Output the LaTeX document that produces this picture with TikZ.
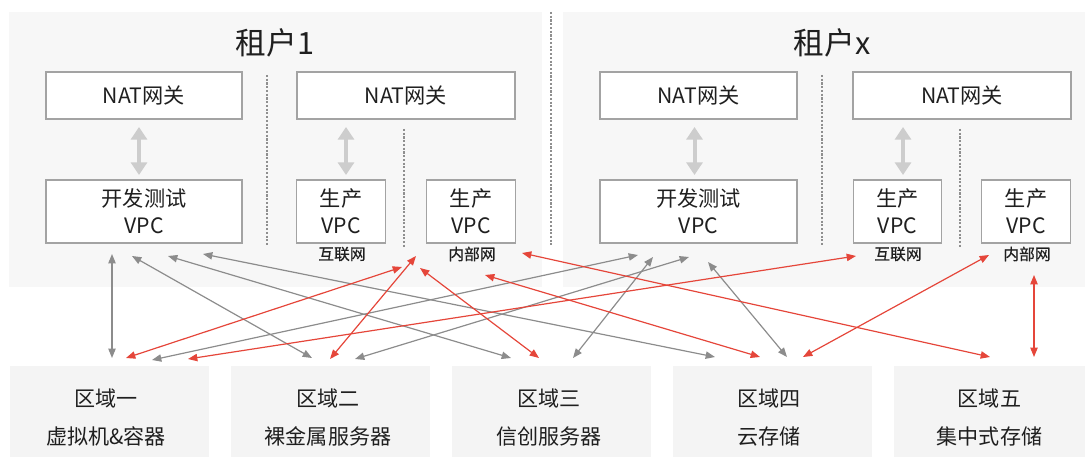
\documentclass[tikz,border=0pt]{standalone}
\usepackage{fontspec}
\setmainfont{Noto Sans CJK SC}
\newfontfamily\labfont{Noto Sans CJK SC}[FakeBold=0.6]
\usetikzlibrary{arrows.meta}
\definecolor{panelbg}{HTML}{F7F7F7}
\definecolor{zonebg}{HTML}{F4F4F4}
\definecolor{boxline}{HTML}{A3A3A3}
\definecolor{dotc}{HTML}{8F8F8F}
\definecolor{garr}{HTML}{8C8C8C}
\definecolor{rarr}{HTML}{E5463A}
\definecolor{larr}{HTML}{CDCDCD}
\definecolor{txt}{HTML}{1F1F1F}
\tikzset{
  box/.style={draw=boxline, fill=white, line width=0.9pt, inner sep=0pt, align=center, text=txt,
    font=\fontsize{15.9pt}{20.25pt}\selectfont},
  natbox/.style={box, minimum height=35.25pt},
  vpcbox/.style={box, minimum height=47.25pt},
  nettag/.style={inner sep=0pt, text=txt, font=\labfont\fontsize{11.8pt}{13pt}\selectfont},
  ttl/.style={inner sep=0pt, text=txt, font=\fontsize{23pt}{26pt}\selectfont},
  zone/.style={fill=zonebg, inner sep=0pt, minimum height=68.25pt},
  zonetext/.style={inner sep=0pt, align=center, text=txt, font=\fontsize{15.8pt}{28.5pt}\selectfont},
  dotline/.style={draw=dotc, line width=1.8pt, dash pattern=on 1.6pt off 1.2pt},
  garrow/.style={draw=garr, line width=0.9pt, {Triangle[length=7pt,width=5.5pt]}-{Triangle[length=7pt,width=5.5pt]}},
  rarrow/.style={draw=rarr, line width=0.9pt, {Triangle[length=7pt,width=5.5pt]}-{Triangle[length=7pt,width=5.5pt]}},
  larrow/.style={draw=larr, line width=3pt, {Triangle[length=9.5pt,width=12pt]}-{Triangle[length=9.5pt,width=12pt]}}
}
\begin{document}
\begin{tikzpicture}[x=0.75pt,y=-0.75pt]
\useasboundingbox (0,0) rectangle (1085,459);
% panels
\fill[panelbg] (9,12) rectangle (542,287);
\fill[panelbg] (563,12) rectangle (1085,287);
\draw[dotline] (551,12) -- (551,245);

% tenant 1
\node[ttl] (t1) at (275,43) {租户1};
\node[natbox, minimum width=147pt] (t1nat1) at (144,95.5) {NAT网关};
\node[natbox, minimum width=163.5pt] (t1nat2) at (406,95.5) {NAT网关};
\node[vpcbox, minimum width=147pt] (t1dev) at (144,211.5) {开发测试\\VPC};
\node[vpcbox, minimum width=66.5pt] (t1pi) at (341,211.5) {生产\\VPC};
\node[vpcbox, minimum width=66.5pt] (t1pn) at (471,211.5) {生产\\VPC};
\node[nettag] (t1pil) at (342,254) {互联网};
\node[nettag] (t1pnl) at (472,254) {内部网};
\draw[dotline] (267,75) -- (267,245);
\draw[dotline] (404,129) -- (404,247);
\coordinate (l1a) at (139,127); \coordinate (l1b) at (139,175);
\coordinate (l2a) at (346,127); \coordinate (l2b) at (346,175);
\draw[larrow] (l1a) -- (l1b);
\draw[larrow] (l2a) -- (l2b);

% tenant x
\node[ttl] (tx) at (832,43) {租户x};
\node[natbox, minimum width=147.75pt] (txnat1) at (698.5,95.5) {NAT网关};
\node[natbox, minimum width=163.5pt] (txnat2) at (962,95.5) {NAT网关};
\node[vpcbox, minimum width=147.75pt] (txdev) at (698.5,211.5) {开发测试\\VPC};
\node[vpcbox, minimum width=65.5pt] (txpi) at (897.5,211.5) {生产\\VPC};
\node[vpcbox, minimum width=67pt] (txpn) at (1026,211.5) {生产\\VPC};
\node[nettag] (txpil) at (898,254) {互联网};
\node[nettag] (txpnl) at (1027,254) {内部网};
\draw[dotline] (822,75) -- (822,245);
\draw[dotline] (960,129) -- (960,247);
\coordinate (l3a) at (694.5,127); \coordinate (l3b) at (694.5,175);
\coordinate (l4a) at (903,127); \coordinate (l4b) at (903,175);
\draw[larrow] (l3a) -- (l3b);
\draw[larrow] (l4a) -- (l4b);

% zones
\node[zone, minimum width=149.25pt] (z1) at (109,411.5) {};
\node[zone, minimum width=149.25pt] (z2) at (330.5,411.5) {};
\node[zone, minimum width=149.25pt] (z3) at (551.3,411.5) {};
\node[zone, minimum width=149.25pt] (z4) at (772.5,411.5) {};
\node[zone, minimum width=143.25pt] (z5) at (989.5,411.5) {};
\node[zonetext] (z1t) at (106,418) {区域一\\虚拟机\&容器};
\node[zonetext] (z2t) at (328,418) {区域二\\裸金属服务器};
\node[zonetext] (z3t) at (549,418) {区域三\\信创服务器};
\node[zonetext] (z4t) at (769,418) {区域四\\云存储};
\node[zonetext] (z5t) at (989.5,418) {区域五\\集中式存储};

% arrow end points
\coordinate (g1a) at (112,254); \coordinate (g1b) at (112,358);
\coordinate (g2a) at (132,256); \coordinate (g2b) at (312,358);
\coordinate (g3a) at (168,256); \coordinate (g3b) at (511,358);
\coordinate (g4a) at (203,254); \coordinate (g4b) at (715,357);
\coordinate (g5a) at (152,360); \coordinate (g5b) at (638,255);
\coordinate (g6a) at (573,358); \coordinate (g6b) at (653,257);
\coordinate (g7a) at (355,359); \coordinate (g7b) at (689,257);
\coordinate (g8a) at (787,357); \coordinate (g8b) at (708,262);
\coordinate (r1a) at (126,358); \coordinate (r1b) at (402,267);
\coordinate (r2a) at (330,359); \coordinate (r2b) at (416,256);
\coordinate (r3a) at (539,358); \coordinate (r3b) at (420,268);
\coordinate (r4a) at (990,357); \coordinate (r4b) at (522,253);
\coordinate (r5a) at (760,357); \coordinate (r5b) at (485,275);
\coordinate (r6a) at (188,359); \coordinate (r6b) at (856,256);
\coordinate (r7a) at (803,357); \coordinate (r7b) at (989,255);
\coordinate (r8a) at (1034,275); \coordinate (r8b) at (1034,357);

\foreach \i in {1,...,8} {\draw[garrow] (g\i a) -- (g\i b);}
\foreach \i in {1,...,8} {\draw[rarrow] (r\i a) -- (r\i b);}
\end{tikzpicture}
\end{document}
